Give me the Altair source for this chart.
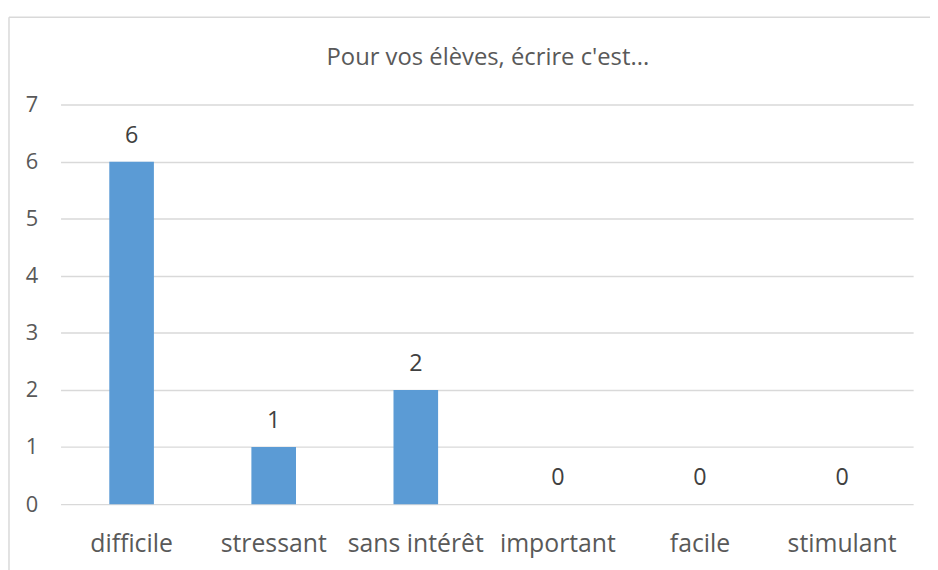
import altair as alt
import pandas as pd

TITLE = "Pour vos élèves, écrire c'est..."
categories = ["difficile", "stressant", "sans intérêt", "important", "facile", "stimulant"]
values = [6, 1, 2, 0, 0, 0]
y_ticks = [0, 1, 2, 3, 4, 5, 6, 7]

df = pd.DataFrame({"cat": categories, "val": values})
FONT = "Open Sans"
GRID = "#D9D9D9"

x_enc = alt.X("cat:N", sort=categories, title=None,
              scale=alt.Scale(paddingInner=0, paddingOuter=0),
              axis=alt.Axis(labelAngle=0, ticks=False, domain=False, grid=False,
                            labelFont=FONT, labelFontSize=25, labelColor="#595959",
                            labelPadding=28))
y_enc = alt.Y("val:Q", title=None,
              scale=alt.Scale(domain=[0, 7], nice=False),
              axis=alt.Axis(values=y_ticks, format="d", ticks=False, domain=False, grid=True,
                            gridColor=GRID, gridWidth=1.5,
                            labelFont=FONT, labelFontSize=22, labelColor="#595959",
                            labelPadding=23))

base = alt.Chart(df)
bars = base.mark_bar(size=45, color="#5B9BD5").encode(x=x_enc, y=y_enc)
labels = base.mark_text(font=FONT, fontSize=23.5, color="#404040",
                        baseline="alphabetic", dy=-19).encode(
    x=alt.X("cat:N", sort=categories), y="val:Q", text="val:Q")

title = alt.Chart(pd.DataFrame({"t": [TITLE]})).mark_text(
    font=FONT, fontSize=24, color="#595959", baseline="alphabetic", align="center"
).encode(text="t:N", x=alt.value(431), y=alt.value(-40))

border_left = alt.Chart(pd.DataFrame({"a": [0]})).mark_rule(
    color=GRID, strokeWidth=1.5).encode(
    x=alt.value(-52), y=alt.value(-88), y2=alt.value(600))
border_top = alt.Chart(pd.DataFrame({"a": [0]})).mark_rule(
    color=GRID, strokeWidth=1.5).encode(
    x=alt.value(-52), x2=alt.value(1000), y=alt.value(-88))

chart = alt.layer(border_left, border_top, bars, labels, title).properties(
    width=860, height=403,
    autosize=alt.AutoSizeParams(type="none"),
    padding={"left": 53, "top": 95, "right": 17, "bottom": 64},
).configure_view(stroke=None)

chart.save("out.html", embed_options={"renderer": "svg", "actions": False})
